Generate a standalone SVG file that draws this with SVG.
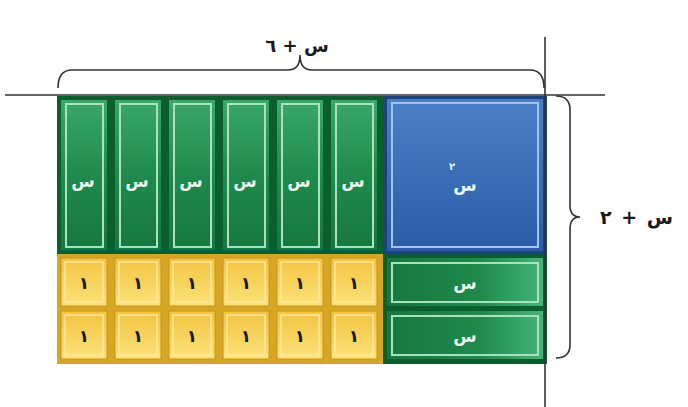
<svg xmlns="http://www.w3.org/2000/svg" width="688" height="407" viewBox="0 0 688 407">
<defs>
<linearGradient id="gv" x1="0" y1="0" x2="0" y2="1"><stop offset="0" stop-color="#3aa86a"/><stop offset="0.5" stop-color="#1f8a4c"/><stop offset="1" stop-color="#17773f"/></linearGradient>
<linearGradient id="gh" x1="0" y1="0" x2="1" y2="0"><stop offset="0" stop-color="#17773f"/><stop offset="0.6" stop-color="#1f8a4c"/><stop offset="1" stop-color="#45b378"/></linearGradient>
<linearGradient id="bl" x1="0" y1="0" x2="0" y2="1"><stop offset="0" stop-color="#4a80c6"/><stop offset="1" stop-color="#2b5ca6"/></linearGradient>
<linearGradient id="yl" x1="0" y1="0" x2="0" y2="1"><stop offset="0" stop-color="#f3c440"/><stop offset="1" stop-color="#fbe27a"/></linearGradient>
</defs>
<style>
.lbl{font-family:"DejaVu Sans","Noto Sans",sans-serif;font-weight:bold;text-anchor:middle}
.w{fill:#eaf7ee;font-size:17px}
.k{fill:#1a1a1a;font-size:17px}
.t{fill:#1a1a1a;font-size:18px;font-weight:bold}
.inner{fill:none;stroke:#a9e0bd;stroke-width:2}
.line{stroke:#333;stroke-width:1.6;fill:none}
</style>
<g id="backgrounds">
<rect x="57" y="96" width="328" height="158" fill="#0b5e2e"/>
<rect x="57" y="254" width="328" height="110" fill="#d8a625"/>
<rect x="383" y="96" width="164" height="158" fill="#1b447f"/>
<rect x="383" y="254" width="164" height="110" fill="#0b5e2e"/>
</g>
<g id="x-strips">
<g id="xs1"><rect x="61" y="100" width="46" height="150" fill="url(#gv)"/><rect x="66" y="104" width="37" height="143" class="inner"/><text x="83" y="187" class="lbl w">س</text></g>
<g id="xs2"><rect x="115" y="100" width="46" height="150" fill="url(#gv)"/><rect x="120" y="104" width="37" height="143" class="inner"/><text x="137" y="187" class="lbl w">س</text></g>
<g id="xs3"><rect x="169" y="100" width="46" height="150" fill="url(#gv)"/><rect x="174" y="104" width="37" height="143" class="inner"/><text x="191" y="187" class="lbl w">س</text></g>
<g id="xs4"><rect x="223" y="100" width="46" height="150" fill="url(#gv)"/><rect x="228" y="104" width="37" height="143" class="inner"/><text x="245" y="187" class="lbl w">س</text></g>
<g id="xs5"><rect x="277" y="100" width="46" height="150" fill="url(#gv)"/><rect x="282" y="104" width="37" height="143" class="inner"/><text x="299" y="187" class="lbl w">س</text></g>
<g id="xs6"><rect x="331" y="100" width="46" height="150" fill="url(#gv)"/><rect x="336" y="104" width="37" height="143" class="inner"/><text x="353" y="187" class="lbl w">س</text></g>
</g>
<g id="x-squared">
<rect x="387" y="99" width="156" height="152" fill="url(#bl)"/>
<rect x="392" y="103" width="146" height="144" fill="none" stroke="#a3c3ea" stroke-width="2"/>
<text x="465" y="191" class="lbl w">س</text>
<text x="452" y="170" class="lbl w" style="font-size:10px">٢</text>
</g>
<g id="x-horizontal">
<g id="xh1"><rect x="387" y="258" width="156" height="48" fill="url(#gh)"/><rect x="392" y="263" width="146" height="39" class="inner"/><text x="465" y="289" class="lbl w">س</text></g>
<g id="xh2"><rect x="387" y="311" width="156" height="48" fill="url(#gh)"/><rect x="392" y="316" width="146" height="39" class="inner"/><text x="465" y="342" class="lbl w">س</text></g>
</g>
<g id="ones">
<g fill="url(#yl)" stroke="#c8951a" stroke-width="1">
<rect x="61" y="258" width="46" height="48"/><rect x="115" y="258" width="46" height="48"/><rect x="169" y="258" width="46" height="48"/><rect x="223" y="258" width="46" height="48"/><rect x="277" y="258" width="46" height="48"/><rect x="331" y="258" width="46" height="48"/>
<rect x="61" y="311" width="46" height="48"/><rect x="115" y="311" width="46" height="48"/><rect x="169" y="311" width="46" height="48"/><rect x="223" y="311" width="46" height="48"/><rect x="277" y="311" width="46" height="48"/><rect x="331" y="311" width="46" height="48"/>
</g>
<g fill="none" stroke="#fde9a0" stroke-width="1.5">
<rect x="65" y="262" width="38" height="40"/><rect x="119" y="262" width="38" height="40"/><rect x="173" y="262" width="38" height="40"/><rect x="227" y="262" width="38" height="40"/><rect x="281" y="262" width="38" height="40"/><rect x="335" y="262" width="38" height="40"/>
<rect x="65" y="315" width="38" height="40"/><rect x="119" y="315" width="38" height="40"/><rect x="173" y="315" width="38" height="40"/><rect x="227" y="315" width="38" height="40"/><rect x="281" y="315" width="38" height="40"/><rect x="335" y="315" width="38" height="40"/>
</g>
<g class="lbl k">
<text x="84" y="289">١</text><text x="138" y="289">١</text><text x="192" y="289">١</text><text x="246" y="289">١</text><text x="300" y="289">١</text><text x="354" y="289">١</text>
<text x="84" y="342">١</text><text x="138" y="342">١</text><text x="192" y="342">١</text><text x="246" y="342">١</text><text x="300" y="342">١</text><text x="354" y="342">١</text>
</g>
</g>
<g id="connectors">
<line x1="5" y1="95" x2="605" y2="95" class="line"/>
<line x1="545" y1="37" x2="545" y2="407" class="line"/>
<path d="M58,88 Q58,70 72,70 L288,70 Q300,70 300,55 Q300,70 312,70 L530,70 Q544,70 544,88" class="line"/>
<path d="M556,96 Q570,96 570,110 L570,205 Q570,217 580,217 Q570,217 570,229 L570,345 Q570,358 556,358" class="line"/>
</g>
<g id="labels">
<text x="297" y="52" class="lbl t">س + ٦</text>
<text x="600" y="224" class="t" style="font-family:'DejaVu Sans','Noto Sans',sans-serif;font-size:19px;word-spacing:3px" direction="rtl" text-anchor="end">س + ٢</text>
</g>
</svg>
